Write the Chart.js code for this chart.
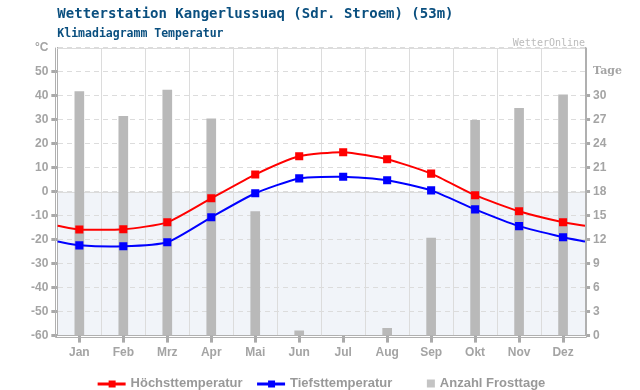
<!DOCTYPE html>
<html>
<head>
<meta charset="utf-8">
<script src="https://cdn.jsdelivr.net/npm/chart.js@4"></script>
<style>
  html, body { margin: 0; padding: 0; background: #fff; }
  #wrap { width: 640px; height: 390px; }
</style>
</head>
<body>
<div id="wrap"><canvas id="klima"></canvas></div>
<script>
const monate = ['Jan', 'Feb', 'Mrz', 'Apr', 'Mai', 'Jun', 'Jul', 'Aug', 'Sep', 'Okt', 'Nov', 'Dez'];
const hoechst = [-15.8, -15.7, -12.8, -2.8, 7.1, 14.7, 16.4, 13.5, 7.5, -1.5, -8.2, -12.8];
const tiefst = [-22.4, -22.8, -21.1, -10.7, -0.7, 5.5, 6.2, 4.7, 0.5, -7.4, -14.4, -19.0];
const frosttage = [30.5, 27.4, 30.7, 27.1, 15.5, 0.6, 0, 0.9, 12.2, 26.9, 28.4, 30.1];
const randHoechst = -14.2;
const randTiefst = -20.8;

const grau = '#a4a4a4';
const sans = 'Liberation Sans, Arial, sans-serif';
const mono = 'DejaVu Sans Mono, monospace';

// Linienpunkte: Rand links, 12 Monate, Rand rechts
function linie(werte, rand) {
  const pkt = werte.map((v, i) => ({ x: i, y: v }));
  return [{ x: -0.5, y: rand }, ...pkt, { x: monate.length - 0.5, y: rand }];
}

// Bildchen fuer die Legende, 40px breit, endet 5px vor dem Text
function legendBild(farbe, nurQuadrat) {
  const c = document.createElement('canvas');
  c.width = 40; c.height = 10;
  const g = c.getContext('2d');
  g.fillStyle = farbe;
  if (nurQuadrat) {
    g.fillRect(27, 1, 8, 8);
  } else {
    g.fillRect(7, 4, 28, 3);
    g.fillRect(18, 2, 7, 7);
  }
  return c;
}

const hintergrund = {
  id: 'hintergrund',
  beforeDraw(chart) {
    const { ctx, chartArea: a, scales } = chart;
    const y0 = scales.y.getPixelForValue(0);
    ctx.save();
    ctx.fillStyle = '#f1f4f9';
    ctx.fillRect(a.left, y0, a.right - a.left, a.bottom - y0);
    ctx.restore();
  },
  beforeDatasetsDraw(chart) {
    const { ctx, chartArea: a, scales } = chart;
    const y0 = Math.round(scales.y.getPixelForValue(0)) + 0.5;
    ctx.save();
    ctx.strokeStyle = '#dcdcdc';
    ctx.lineWidth = 1;
    ctx.beginPath();
    ctx.moveTo(a.left, y0); ctx.lineTo(a.right, y0);
    ctx.moveTo(a.left, Math.round(a.top) + 0.5); ctx.lineTo(a.right, Math.round(a.top) + 0.5);
    ctx.stroke();
    ctx.restore();
  },
  afterDraw(chart) {
    const { ctx, chartArea: a } = chart;
    const l = Math.round(a.left) - 1.5, r = Math.round(a.right) + 1.5, b = Math.round(a.bottom) + 1.5;
    ctx.save();
    ctx.strokeStyle = '#b0b0b0';
    ctx.lineWidth = 1;
    ctx.beginPath();
    ctx.moveTo(l, a.top); ctx.lineTo(l, b); ctx.lineTo(r, b); ctx.lineTo(r, a.top);
    ctx.stroke();
    ctx.font = '10px ' + mono;
    ctx.fillStyle = '#bbbbbb';
    ctx.textAlign = 'right';
    ctx.textBaseline = 'middle';
    ctx.fillText('WetterOnline', a.right, 43);
    ctx.restore();
  }
};

const ctx = document.getElementById('klima').getContext('2d');

new Chart(ctx, {
  data: {
    datasets: [
      {
        type: 'line',
        label: 'Höchsttemperatur',
        data: linie(hoechst, randHoechst),
        borderColor: '#ff0000',
        backgroundColor: '#ff0000',
        borderWidth: 2,
        tension: 0.2,
        pointStyle: 'rect',
        pointRadius: c => (c.index === 0 || c.index === monate.length + 1) ? 0 : 4.3,
        xAxisID: 'x', yAxisID: 'y',
        order: 1,
        bild: legendBild('#ff0000', false)
      },
      {
        type: 'line',
        label: 'Tiefsttemperatur',
        data: linie(tiefst, randTiefst),
        borderColor: '#0000ff',
        backgroundColor: '#0000ff',
        borderWidth: 2,
        tension: 0.2,
        pointStyle: 'rect',
        pointRadius: c => (c.index === 0 || c.index === monate.length + 1) ? 0 : 4.3,
        xAxisID: 'x', yAxisID: 'y',
        order: 2,
        bild: legendBild('#0000ff', false)
      },
      {
        type: 'bar',
        label: 'Anzahl Frosttage',
        data: frosttage.map((v, i) => ({ x: i, y: v })),
        backgroundColor: '#b9b9b9',
        barThickness: 9,
        xAxisID: 'x', yAxisID: 'y2',
        order: 3,
        bild: legendBild('#c4c4c4', true)
      }
    ]
  },
  options: {
    responsive: true,
    maintainAspectRatio: false,
    animation: false,
    layout: { padding: { left: 28, right: 15, top: 0, bottom: -10 } },
    plugins: {
      tooltip: { enabled: false },
      title: {
        display: true,
        text: 'Wetterstation Kangerlussuaq (Sdr. Stroem) (53m)',
        align: 'start',
        fullSize: false,
        color: '#0a4f7f',
        font: { family: mono, size: 14, weight: 'bold' },
        padding: { top: 6, bottom: 2 }
      },
      subtitle: {
        display: true,
        text: 'Klimadiagramm Temperatur',
        align: 'start',
        fullSize: false,
        color: '#0a4f7f',
        font: { family: mono, size: 11.5, weight: 'bold' },
        padding: { top: 2, bottom: 7 }
      },
      legend: {
        position: 'bottom',
        fullSize: false,
        labels: {
          usePointStyle: true,
          pointStyleWidth: 27,
          padding: 14,
          color: '#999999',
          font: { family: sans, size: 13, weight: 'bold' },
          generateLabels: chart => chart.data.datasets.map((ds, i) => ({
            text: ds.label,
            pointStyle: ds.bild,
            fontColor: '#999999',
            fillStyle: ds.backgroundColor,
            strokeStyle: 'transparent',
            lineWidth: 0,
            hidden: false,
            datasetIndex: i
          }))
        }
      }
    },
    scales: {
      x: {
        type: 'linear',
        position: 'bottom',
        offset: false,
        min: -0.5,
        max: monate.length - 0.5,
        afterBuildTicks: s => { s.ticks = monate.map((m, i) => ({ value: i })); },
        ticks: {
          callback: v => monate[v],
          color: grau,
          font: { family: sans, size: 12, weight: 'bold' },
          padding: 3,
          maxRotation: 0
        },
        grid: { offset: false, drawOnChartArea: false, tickLength: 7, tickWidth: 3, tickColor: '#aaaaaa' },
        border: { display: true, color: '#b0b0b0' }
      },
      xg: {
        type: 'linear',
        position: 'top',
        offset: false,
        min: -0.5,
        max: monate.length - 0.5,
        ticks: { display: false, stepSize: 1 },
        grid: { offset: false, color: '#dcdcdc', drawTicks: false },
        border: { display: false }
      },
      y: {
        position: 'left',
        min: -60,
        max: 60,
        ticks: {
          stepSize: 10,
          callback: v => v === 60 ? '°C' : v,
          color: grau,
          font: { family: sans, size: 12, weight: 'bold' },
          padding: 3
        },
        grid: {
          color: '#dcdcdc',
          tickLength: 6,
          tickWidth: 3,
          tickColor: c => (c.tick && c.tick.value === 60) ? 'rgba(0,0,0,0)' : '#aaaaaa'
        },
        border: { display: true, color: '#b0b0b0', dash: [5, 4] }
      },
      y2: {
        position: 'right',
        min: 0,
        max: 36,
        ticks: {
          stepSize: 3,
          callback: v => v === 33 ? 'Tage' : (v === 36 ? '' : v),
          color: grau,
          font: c => (c.tick && c.tick.value === 33)
            ? { family: 'DejaVu Serif, serif', size: 11, weight: 'bold' }
            : { family: sans, size: 12, weight: 'bold' },
          padding: 3
        },
        grid: {
          drawOnChartArea: false,
          tickLength: 5,
          tickWidth: 3,
          tickColor: c => (c.tick && c.tick.value >= 33) ? 'rgba(0,0,0,0)' : '#aaaaaa'
        },
        border: { display: true, color: '#b0b0b0' }
      }
    }
  },
  plugins: [hintergrund]
});
</script>
</body>
</html>
